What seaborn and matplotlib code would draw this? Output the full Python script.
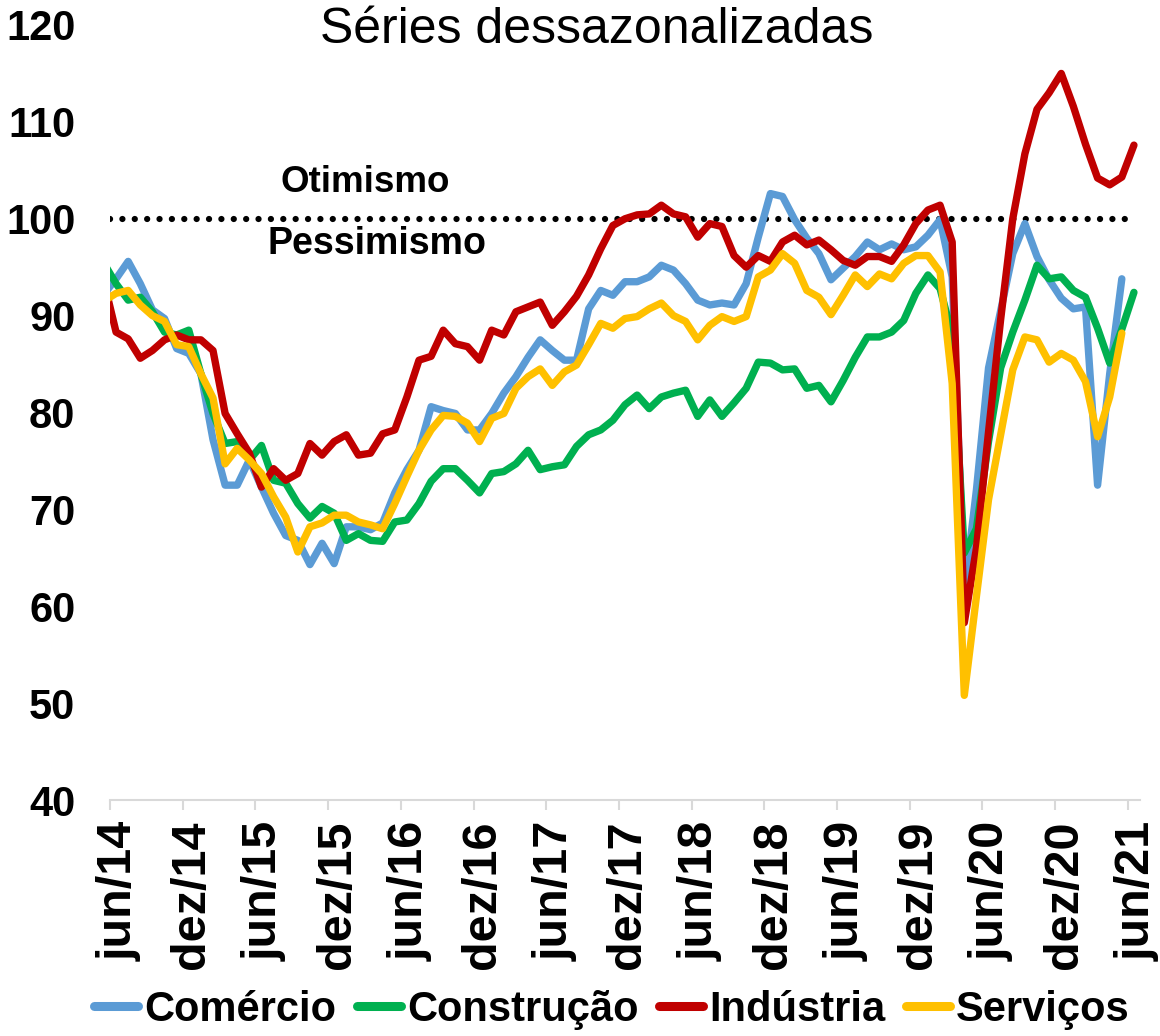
import numpy as np
import pandas as pd
import matplotlib
matplotlib.use('Agg')
import matplotlib.pyplot as plt
import matplotlib.transforms as mtransforms
import seaborn as sns

# monthly series, may/14 .. jun/21 (may/14 is only there for the clipped first segment)
months = pd.period_range('2014-05', '2021-06', freq='M')

comercio = [92.2, 93.8, 95.6, 93.3, 90.6, 89.7, 86.6, 86.1, 84.0, 77.2, 72.5, 72.5, 75.1, 72.3, 69.6,
            67.3, 66.8, 64.3, 66.5, 64.4, 68.2, 68.2, 67.9, 68.6, 71.7, 74.1, 76.1, 80.6, 80.2,
            79.9, 78.2, 78.2, 79.9, 82.0, 83.7, 85.7, 87.5, 86.4, 85.4, 85.4, 90.7, 92.6, 92.1,
            93.5, 93.5, 94.0, 95.2, 94.7, 93.3, 91.6, 91.1, 91.3, 91.1, 93.3, 98.1, 102.6, 102.3,
            99.9, 98.0, 96.4, 93.7, 94.9, 96.1, 97.6, 96.8, 97.4, 96.8, 97.1, 98.3, 99.9, 94.0,
            61.5, 72.0, 84.6, 90.5, 96.4, 99.5, 96.1, 93.7, 91.8, 90.7, 90.9, 72.5, 84.0, 93.8, np.nan]

construcao = [95.4, 93.3, 91.6, 91.9, 90.4, 88.3, 88.0, 88.5, 84.0, 79.9, 76.8, 77.0, 75.1, 76.6, 73.0,
              72.7, 70.6, 69.1, 70.3, 69.6, 66.8, 67.5, 66.8, 66.7, 68.7, 68.9, 70.6, 72.9, 74.2,
              74.2, 73.0, 71.7, 73.7, 73.9, 74.7, 76.1, 74.1, 74.4, 74.6, 76.5, 77.7, 78.2, 79.2,
              80.8, 81.8, 80.4, 81.6, 82.0, 82.3, 79.6, 81.3, 79.6, 81.0, 82.5, 85.2, 85.1, 84.4,
              84.5, 82.5, 82.8, 81.1, 83.3, 85.7, 87.8, 87.8, 88.3, 89.5, 92.3, 94.2, 92.8, 88.0,
              65.5, 68.0, 77.0, 84.6, 88.3, 91.6, 95.2, 93.8, 94.0, 92.6, 91.9, 88.7, 85.1, 88.6, 92.4]

industria = [93.5, 88.3, 87.6, 85.6, 86.4, 87.5, 88.0, 87.5, 87.5, 86.4, 79.9, 77.8, 75.8, 72.3, 74.2,
             73.0, 73.7, 76.8, 75.6, 77.0, 77.7, 75.6, 75.8, 77.8, 78.2, 81.6, 85.4, 85.8, 88.5,
             87.1, 86.8, 85.4, 88.5, 88.0, 90.4, 90.9, 91.4, 89.0, 90.4, 92.0, 94.2, 96.9, 99.3,
             100.0, 100.4, 100.5, 101.4, 100.5, 100.2, 98.1, 99.5, 99.2, 96.2, 95.0, 96.2, 95.6, 97.6,
             98.3, 97.3, 97.8, 96.8, 95.7, 95.2, 96.1, 96.1, 95.6, 97.3, 99.5, 100.9, 101.4, 97.6,
             58.3, 66.0, 78.0, 89.6, 100.0, 106.7, 111.3, 113.0, 115.0, 111.6, 107.7, 104.2, 103.5, 104.3, 107.6]

servicos = [91.5, 92.3, 92.6, 91.1, 90.0, 89.4, 87.0, 86.8, 84.0, 81.5, 74.7, 76.3, 75.1, 73.7, 71.3,
            69.2, 65.6, 68.2, 68.6, 69.4, 69.4, 68.7, 68.4, 68.0, 70.6, 73.4, 76.1, 78.2, 79.7,
            79.6, 78.9, 77.0, 79.4, 79.9, 82.5, 83.7, 84.5, 82.8, 84.2, 84.9, 87.0, 89.2, 88.7,
            89.7, 89.9, 90.7, 91.3, 90.0, 89.4, 87.5, 89.0, 89.9, 89.4, 89.9, 94.0, 94.7, 96.4,
            95.4, 92.6, 91.9, 90.1, 92.1, 94.2, 93.0, 94.3, 93.8, 95.4, 96.2, 96.2, 94.5, 83.0,
            50.8, 61.0, 71.0, 77.7, 84.4, 87.8, 87.5, 85.2, 86.1, 85.4, 83.2, 77.5, 81.6, 88.2, np.nan]

setores = ['Comércio', 'Construção', 'Indústria', 'Serviços']
cores = ['#5B9BD5', '#00B050', '#C00000', '#FFC000']
neutro = 100

tick_labels = ['jun/14', 'dez/14', 'jun/15', 'dez/15', 'jun/16', 'dez/16', 'jun/17', 'dez/17',
               'jun/18', 'dez/18', 'jun/19', 'dez/19', 'jun/20', 'dez/20', 'jun/21']

# month offset from jun/14, points sit mid-month on the date axis
pos = (months - pd.Period('2014-06', freq='M')).map(lambda d: d.n).astype(float) + 0.5

df = pd.DataFrame({'pos': np.tile(pos, 4),
                   'valor': comercio + construcao + industria + servicos,
                   'setor': np.repeat(setores, len(months))}).dropna()

sns.set_style('white')
plt.rcParams['font.family'] = ['Liberation Sans', 'DejaVu Sans']
plt.rcParams['text.color'] = 'black'

fig = plt.figure(figsize=(11.6, 10.36), dpi=100)
ax = fig.add_axes([110 / 1160, 1 - 800 / 1036, 1030 / 1160, 775 / 1036])

sns.lineplot(data=df, x='pos', y='valor', hue='setor', hue_order=setores,
             palette=dict(zip(setores, cores)), linewidth=5.3, sort=False,
             estimator=None, ax=ax)

tick_pos = np.arange(0, 6 * len(tick_labels), 6)
ax.hlines(neutro, tick_pos[0], tick_pos[-1], colors='black', linewidth=4.5,
          linestyles=[(0, (0.01, 1.97))], capstyle='round', zorder=1)

ax.set_xlim(0, 85)
ax.set_ylim(40, 120)
ax.set_yticks(np.arange(40, 121, 10))
ax.set_xticks(tick_pos)
ax.set_xticklabels(tick_labels, rotation=90, fontsize=35, fontweight='bold')
for t in ax.get_yticklabels():
    t.set_fontsize(30)
    t.set_fontweight('bold')
ax.tick_params(axis='y', length=0, pad=25, labelcolor='black')
ax.tick_params(axis='x', length=7, width=1.5, color='#D9D9D9', pad=8, direction='out',
               bottom=True, labelcolor='black')
ax.set_xlabel('')
ax.set_ylabel('')
for s in ['left', 'right', 'top']:
    ax.spines[s].set_visible(False)
ax.spines['bottom'].set_color('#D9D9D9')
ax.spines['bottom'].set_linewidth(1.5)

# Excel puts the rotated labels a bit right of the tick (after tick_params, which resets transforms)
shift = mtransforms.ScaledTranslation(9 / 100, 0, fig.dpi_scale_trans)
for t in ax.get_xticklabels():
    t.set_transform(t.get_transform() + shift)

fig.text(597 / 1160, 1 - 30 / 1036, 'Séries dessazonalizadas', ha='center', va='center', fontsize=36)
fig.text(365 / 1160, 1 - 182 / 1036, 'Otimismo', ha='center', va='center', fontsize=26.5, fontweight='bold')
fig.text(377 / 1160, 1 - 244 / 1036, 'Pessimismo', ha='center', va='center', fontsize=27, fontweight='bold')

sns.move_legend(ax, 'center', bbox_to_anchor=(612 / 1160, 1 - 1010 / 1036),
                bbox_transform=fig.transFigure, ncol=4, frameon=False, title=None,
                prop={'size': 30, 'weight': 'bold'}, handlelength=1.05,
                handletextpad=0.15, columnspacing=0.5, borderaxespad=0)
for h in ax.get_legend().legend_handles:
    h.set_linewidth(6.5)
    h.set_solid_capstyle('round')

fig.savefig('out.png', dpi=100)
